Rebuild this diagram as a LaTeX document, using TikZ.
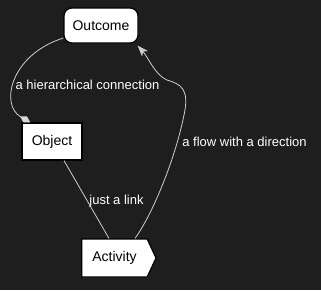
\documentclass[tikz,border=0pt]{standalone}
\usepackage{fontspec}
\setmainfont{Liberation Sans}
\definecolor{mybg}{HTML}{1E1E1E}
\definecolor{mylink}{HTML}{CFCFCF}
\usepackage{tikz}
\usetikzlibrary{positioning, shapes.symbols, arrows.meta}
\tikzset{
	defaultnode/.style={
			draw=black,
			line width=1.2pt,
			fill=white,
			text=black,
			font=\fontsize{14}{16}\selectfont,
			inner sep=0pt
		},
	outcomenode/.style={
			defaultnode,
			rectangle,
			rounded corners=8pt,
			minimum width=74pt,
			minimum height=35pt
		},
	objectnode/.style={
			defaultnode,
			rectangle,
			minimum width=60pt,
			minimum height=37pt
		},
	activitynode/.style={
			defaultnode,
			signal,
			signal to=east,
			signal pointer angle=130,
			inner xsep=10.5pt,
			minimum height=38pt
		},
	edgelabel/.style={
			text=white,
			font=\fontsize{13}{15}\selectfont,
			inner sep=0pt
		},
	connector/.style={
			draw=mylink,
			line width=0.8pt
		}
}
\begin{document}
\begin{tikzpicture}[x=1pt, y=-1pt]
\fill[mybg] (0,0) rectangle (321,290);
\useasboundingbox (0,0) rectangle (321,290);
    \node[outcomenode] (outcome) at (101,25.5) {Outcome};
    \node[objectnode] (object) at (52,141.5) {Object};
    \node[activitynode] (activity) at (114.5,258) {Activity};

    \node[edgelabel] (lhier) at (87.5,85) {a hierarchical connection};
    \node[edgelabel] (llink) at (116.5,201) {just a link};
    \node[edgelabel] (lflow) at (244.5,142) {a flow with a direction};

    \draw[connector, -{Diamond[length=12pt, width=7pt, fill=mylink!80!white]}]
        ([yshift=-12.5pt]outcome.west) .. controls (10,55) and (0,105) .. ([xshift=9pt]object.north west);
    \draw[connector] ([xshift=12pt]object.south) -- ([xshift=-5.5pt]activity.north);
    \draw[connector, -{Stealth[length=11pt, width=8pt, inset=3pt, fill=mylink]}]
        ([xshift=20.5pt]activity.north) .. controls (152,215) and (175,160) .. (184,115)
        .. controls (190,88) and (180,84) .. (167,80)
        .. controls (155,75) and (148,57) .. ([shift={(-1pt,-2pt)}]outcome.south east);
\end{tikzpicture}
\end{document}
